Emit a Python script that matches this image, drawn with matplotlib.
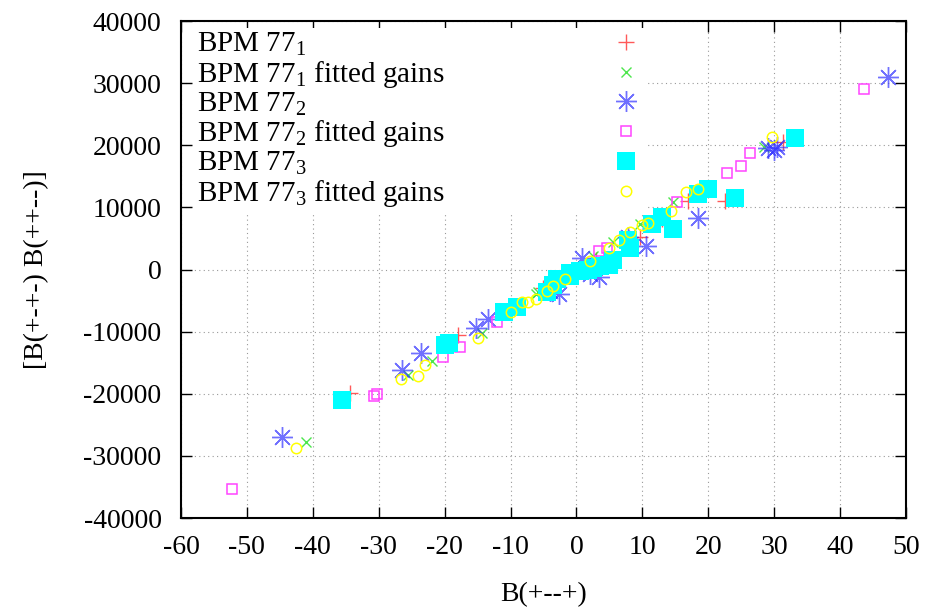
import matplotlib
matplotlib.use("Agg")
import matplotlib.pyplot as plt

plt.rcParams["font.family"] = ["Liberation Serif", "DejaVu Serif"]
plt.rcParams["mathtext.fontset"] = "custom"
plt.rcParams["mathtext.rm"] = "Liberation Serif"
plt.rcParams["mathtext.it"] = "Liberation Serif"
plt.rcParams["axes.unicode_minus"] = False

# BPM 77_1 (red plus)
x1 = [-34.3, -17.9, -5.0, 0.0, 3.0, 8.0, 9.7, 13.0, 17.0, 22.6, 31.3]
y1 = [-19800, -10500, -3000, 0, 1500, 5000, 5300, 8200, 11000, 11000, 20500]
# BPM 77_1 fitted gains (green x)
x1f = [-41.0, -25.5, -21.9, -14.3, -6.2, -5.9, -3.0, 1.0, 2.5, 5.6, 9.7, 14.6, 28.4]
y1f = [-27700, -16900, -14800, -10200, -4000, -3700, -2000, 500, 2100, 4400, 7300, 10800, 19800]
# BPM 77_2 (blue asterisk)
x2 = [-44.6, -26.5, -23.6, -15.3, -13.4, -4.0, -2.7, 0.9, 2.0, 3.5, 7.9, 10.5, 18.4, 29.1, 30.0, 30.5, 47.2]
y2 = [-27000, -16100, -13500, -9400, -8000, -3500, -4000, 1900, -800, -1200, 5200, 3800, 8300, 19500, 19200, 19700, 31000]
# BPM 77_2 fitted gains (magenta open square)
x2f = [-52.3, -30.7, -30.3, -20.3, -17.7, -12.0, 3.5, 4.6, 15.3, 22.8, 25.0, 26.3, 43.6]
y2f = [-35300, -20400, -20000, -14100, -12400, -8400, 3000, 3500, 10800, 15600, 16600, 18700, 29000]
# BPM 77_3 (cyan filled square)
x3 = [-35.5, -20.0, -19.4, -11.0, -9.0, -4.4, -3.5, -2.9, -1.0, -0.9, 0.5, 1.7, 2.5, 3.6, 5.0, 5.6, 7.9, 8.2,
      11.5, 13.0, 14.7, 18.4, 19.9, 24.0, 33.2]
y3 = [-21000, -12100, -11800, -6900, -6000, -3700, -2500, -1600, -1000, -500, -200, 0, 300, 500, 800, 1600, 4800, 3500,
      7300, 8500, 6500, 12100, 12900, 11500, 21200]
# BPM 77_3 fitted gains (yellow circle)
x3f = [-42.6, -26.6, -24.1, -23.0, -15.0, -10.0, -8.2, -7.3, -6.2, -4.5, -3.5, -1.8, 2.1, 4.9, 6.5, 8.1,
       10.0, 10.8, 14.4, 16.7, 18.4, 29.7]
y3f = [-28700, -17600, -17100, -15400, -11000, -6900, -5300, -5300, -4800, -3400, -2600, -1500, 1400, 3500, 4700, 6000,
       7200, 7500, 9400, 12400, 13000, 21300]

fig = plt.figure(figsize=(9.29, 6.09), dpi=100)
ax = fig.add_axes([0.1948, 0.1494, 0.7804, 0.8161])

ax.plot(x1, y1, "+", color="#ff3030", ms=11, mew=1.0, alpha=0.8, label="BPM 77$_1$", zorder=3)
ax.plot(x1f, y1f, "x", color="#20e020", ms=6.5, mew=1.0, alpha=0.8, label="BPM 77$_1$ fitted gains", zorder=3)
ax.plot(x2, y2, marker=(8, 2, 0), ls="none", color="#3333ff", ms=15, mew=1.0, alpha=0.7,
        label="BPM 77$_2$", zorder=3)
ax.plot(x2f, y2f, "s", mfc="none", mec="#ff44ff", ms=6.5, mew=1.1, label="BPM 77$_2$ fitted gains", zorder=3)
ax.plot(x3, y3, "s", color="#00ffff", ms=13, mew=0, label="BPM 77$_3$", zorder=3)
ax.plot(x3f, y3f, "o", mfc="none", mec="#ffff00", ms=7.5, mew=1.1, label="BPM 77$_3$ fitted gains", zorder=3)

ax.set_xlim(-60, 50)
ax.set_ylim(-40000, 40000)
ax.set_xticks(range(-60, 51, 10))
ax.set_yticks(range(-40000, 40001, 10000))
ax.tick_params(direction="in", length=8, width=1.0, top=True, right=True, labelsize=20, pad=12)
ax.tick_params(axis="y", pad=14)
ax.grid(True, ls=(0, (1, 3)), color="#999999", lw=0.8)
ax.set_axisbelow(True)
for s in ax.spines.values():
    s.set_linewidth(1.5)

ax.set_xlabel("B(+--+)", fontsize=20, labelpad=16)
ax.set_ylabel("[B(+-+-) B(++--)]", fontsize=20, labelpad=25)

leg_fs = 21
leg = ax.legend(loc="upper left", bbox_to_anchor=(0.0175, 0.986), markerfirst=False, fontsize=leg_fs,
                frameon=True, fancybox=False, edgecolor="none", facecolor="white", framealpha=1,
                handletextpad=5.5, handlelength=1.2, labelspacing=0.025, borderaxespad=0.0,
                borderpad=0.1, numpoints=1)
leg.set_zorder(5)

# left-align the legend texts while keeping the markers in one column
fig.canvas.draw()
renderer = fig.canvas.get_renderer()
widths = [t.get_window_extent(renderer).width for t in leg.get_texts()]
maxw = max(widths)
rows = leg._legend_handle_box.get_children()[0].get_children()
for row, w in zip(rows, widths):
    row.sep = 118 + (maxw - w) * 72 / fig.dpi

fig.savefig("out.png", dpi=100)
